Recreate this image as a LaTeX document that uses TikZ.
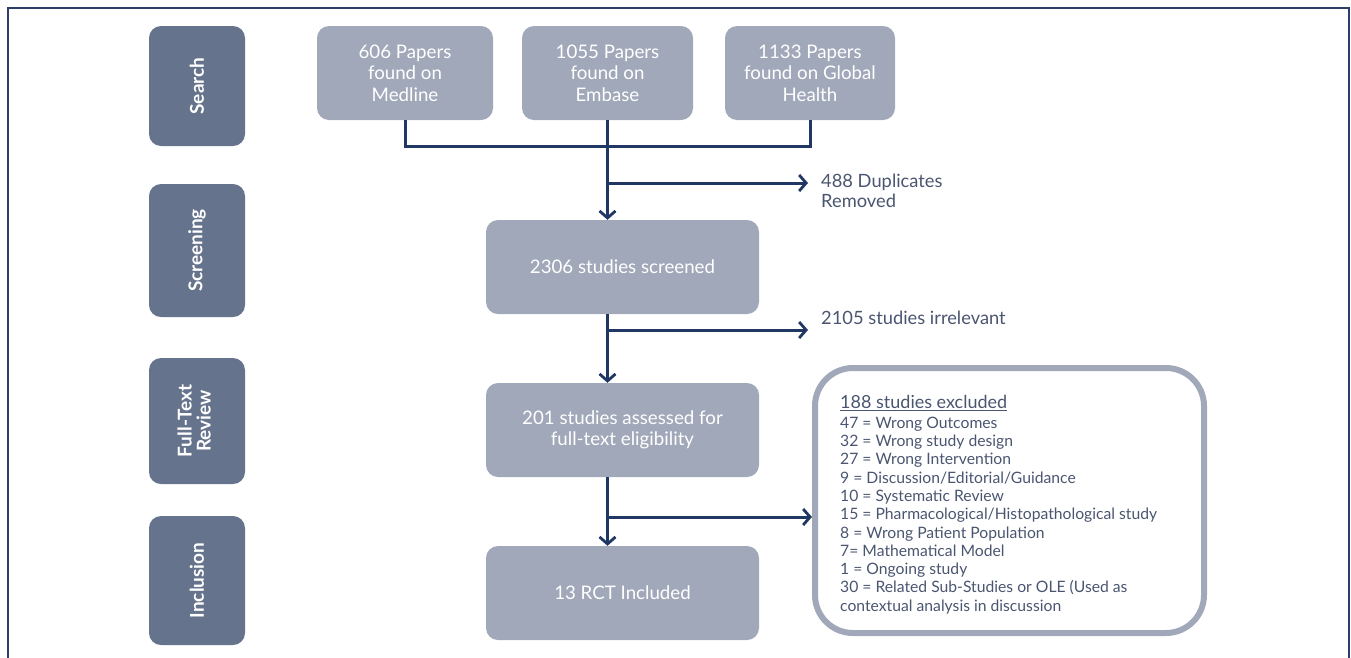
\documentclass[tikz,border=0pt]{standalone}
\usepackage{fontspec}
\setmainfont{Lato}
\usetikzlibrary{arrows.meta}
\definecolor{phasec}{HTML}{66738C}
\definecolor{boxc}{HTML}{A0A8B9}
\definecolor{linec}{HTML}{213763}
\definecolor{txtc}{HTML}{4A5570}
\definecolor{framec}{HTML}{2E3E66}
\tikzset{
  phase/.style={fill=phasec, rounded corners=12pt, minimum width=96pt, inner sep=0pt, text=white, font=\fontsize{19}{20}\selectfont\bfseries, align=center},
  srcbox/.style={fill=boxc, rounded corners=12pt, minimum width=175pt, minimum height=94pt, inner sep=0pt, text=white, font=\fontsize{18.7}{21.5}\selectfont, align=center},
  flowbox/.style={fill=boxc, rounded corners=12pt, minimum width=273pt, minimum height=94pt, inner sep=0pt, text=white, font=\fontsize{18.7}{21.5}\selectfont, align=center},
  conn/.style={draw=linec, line width=3pt},
  arr/.style={conn, -{Straight Barb[length=7pt,width=16pt,line width=2.8pt]}},
  lbl/.style={text=txtc, font=\fontsize{18.3}{20}\selectfont, align=left, inner sep=0pt, anchor=west}
}
\begin{document}
\begin{tikzpicture}[x=1pt,y=-1pt]
\useasboundingbox (0,0) rectangle (1351,657);
% frame
\draw[framec, line width=1.3pt] (8,660) -- (8,8) -- (1349,8) -- (1349,660);
% phase boxes
\node[phase, minimum height=120pt] (ps) at (197,86) {\rotatebox{90}{Search}};
\node[phase, minimum height=133pt] (pscr) at (197,250.5) {\rotatebox{90}{Screening}};
\node[phase, minimum height=126pt] (pft) at (197,421) {\rotatebox{90}{\begin{tabular}{@{}c@{}}Full-Text\\[-1pt]Review\end{tabular}}};
\node[phase, minimum height=129pt] (pinc) at (197,580.5) {\rotatebox{90}{Inclusion}};
% source boxes
\node[srcbox, minimum width=176pt] (med) at (405,73) {606 Papers\\found on\\Medline};
\node[srcbox, minimum width=171pt] (emb) at (607.5,73) {1055 Papers\\found on\\Embase};
\node[srcbox, minimum width=170pt] (glob) at (810,73) {1133 Papers\\found on Global\\Health};
% flow boxes
\node[flowbox] (scr) at (622.5,267) {2306 studies screened};
\node[flowbox] (full) at (622.5,430) {201 studies assessed for\\full-text eligibility};
\node[flowbox] (inc) at (622.5,593) {13 RCT Included};
% excluded box
\node[draw=boxc, line width=6pt, rounded corners=38pt, minimum width=389pt, minimum height=265pt, inner sep=0pt] (excl) at (1009.5,500.5) {};
\node[text=txtc, anchor=north west, inner sep=0pt, align=left, font=\fontsize{15.7}{18.3}\selectfont] (exclt) at (840,395)
{{\fontsize{18}{20}\selectfont\underline{188 studies excluded}}\\[1.5pt]
47 = Wrong Outcomes\\
32 = Wrong study design\\
27 = Wrong Intervention\\
9 = Discussion/Editorial/Guidance\\
10 = Systematic Review\\
15 = Pharmacological/Histopathological study\\
8 = Wrong Patient Population\\
7= Mathematical Model\\
1 = Ongoing study\\
30 = Related Sub-Studies or OLE (Used as\\
contextual analysis in discussion};
% labels
\node[lbl] (dupl) at (821,191) {488 Duplicates\\Removed};
\node[lbl] (irr) at (821,318) {2105 studies irrelevant};
% coordinates
\coordinate (j) at (607,146);
\coordinate (b1) at (607,183);
\coordinate (e1) at (808,183);
\coordinate (b2) at (607,330);
\coordinate (e2) at (808,330);
\coordinate (b3) at (607,517);
% connectors
\draw[conn] (med.south) -- (med.south |- j) -- (glob.south |- j) -- (glob.south);
\draw[arr] (emb.south) -- (emb.south |- scr.north);
\draw[arr] (b1) -- (e1);
\draw[arr] (emb.south |- scr.south) -- (emb.south |- full.north);
\draw[arr] (b2) -- (e2);
\draw[arr] (emb.south |- full.south) -- (emb.south |- inc.north);
\draw[arr] (b3) -- (b3 -| excl.west);
\end{tikzpicture}
\end{document}
